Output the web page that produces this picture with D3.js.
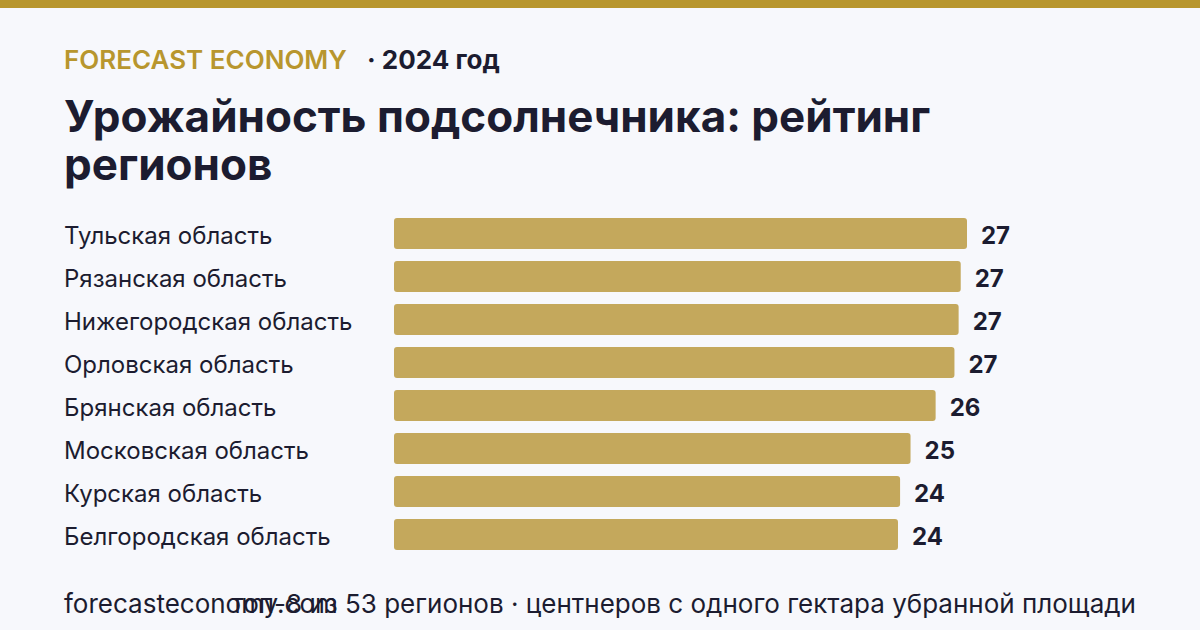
<!DOCTYPE html>
<html>
<head>
<meta charset="utf-8">
<script src="https://cdn.jsdelivr.net/npm/d3@7"></script>
<style>
  html, body { margin: 0; padding: 0; background: #f7f8fc; }
  svg { display: block; font-family: Inter, "Noto Sans", sans-serif; }
</style>
</head>
<body>
<div id="chart"></div>
<script>
// data
const regions = [
    "Тульская область",
    "Рязанская область",
    "Нижегородская область",
    "Орловская область",
    "Брянская область",
    "Московская область",
    "Курская область",
    "Белгородская область"
];
const yields = [27.4, 27.1, 27.0, 26.8, 25.9, 24.7, 24.2, 24.1];
const brand = "FORECAST ECONOMY";
const period = "· 2024 год";
const titleLines = ["Урожайность подсолнечника: рейтинг", "регионов"];
const sourceText = "forecasteconomy.com";
const noteText = "топ-8 из 53 регионов · центнеров с одного гектара убранной площади";

function drawChart() {
    const width = 1200;
    const height = 630;
    const gold = "#b8962e";
    const barColor = "#c4a85c";
    const ink = "#1c1c30";

    const svg = d3.select("#chart")
        .append("svg")
        .attr("width", width)
        .attr("height", height);

    svg.append("rect")
        .attr("width", width)
        .attr("height", height)
        .attr("fill", "#f7f8fc");

    // top stripe
    svg.append("rect")
        .attr("width", width)
        .attr("height", 8)
        .attr("fill", gold);

    // header
    svg.append("text")
        .attr("x", 64)
        .attr("y", 69)
        .attr("fill", gold)
        .attr("font-size", 26)
        .attr("font-weight", 600)
        .text(brand);

    svg.append("text")
        .attr("x", 367)
        .attr("y", 69)
        .attr("fill", ink)
        .attr("font-size", 26)
        .attr("font-weight", 700)
        .text(period);

    svg.append("g")
        .selectAll("text")
        .data(titleLines)
        .join("text")
        .attr("x", 64)
        .attr("y", (d, i) => 132 + i * 48)
        .attr("fill", ink)
        .attr("font-size", 44)
        .attr("font-weight", 700)
        .text(d => d);

    // scales
    const x = d3.scaleLinear()
        .domain([0, d3.max(yields)])
        .range([394, 967]);

    const y = d3.scaleBand()
        .domain(regions)
        .range([212, 556])
        .paddingInner(0.28)
        .paddingOuter(0.14);

    const rows = svg.append("g")
        .selectAll("g")
        .data(regions)
        .join("g");

    rows.append("text")
        .attr("x", 64)
        .attr("y", d => y(d) + y.bandwidth() / 2 + 10)
        .attr("fill", ink)
        .attr("font-size", 24)
        .text(d => d);

    rows.append("rect")
        .attr("x", x(0))
        .attr("y", d => y(d))
        .attr("height", y.bandwidth())
        .attr("width", (d, i) => x(yields[i]) - x(0))
        .attr("rx", 3)
        .attr("fill", barColor);

    rows.append("text")
        .attr("x", (d, i) => x(yields[i]) + 14)
        .attr("y", d => y(d) + y.bandwidth() / 2 + 10)
        .attr("fill", ink)
        .attr("font-size", 24)
        .attr("font-weight", 700)
        .text((d, i) => d3.format(".0f")(yields[i]));

    // footer
    svg.append("text")
        .attr("x", 64)
        .attr("y", 613)
        .attr("fill", ink)
        .attr("font-size", 26)
        .text(sourceText);

    svg.append("text")
        .attr("x", 1136)
        .attr("y", 613)
        .attr("text-anchor", "end")
        .attr("fill", ink)
        .attr("font-size", 26)
        .text(noteText);
}
drawChart();
</script>
</body>
</html>
